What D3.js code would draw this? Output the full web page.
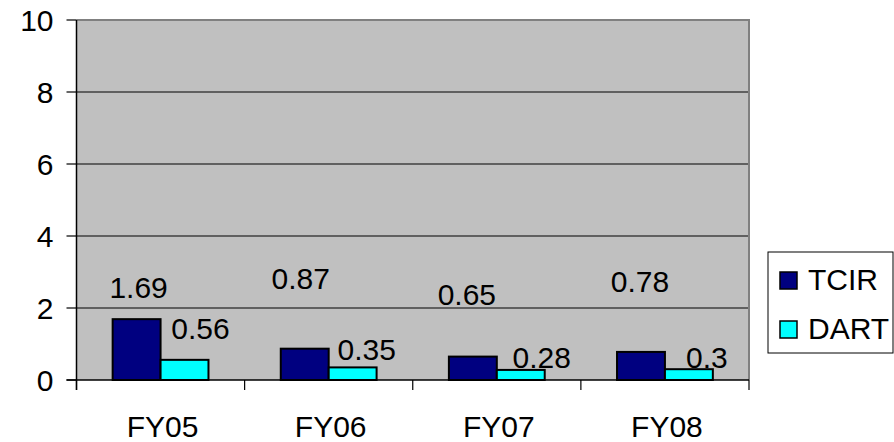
<!DOCTYPE html>
<html>
<head>
<meta charset="utf-8">
<script src="https://cdn.jsdelivr.net/npm/d3@7"></script>
<style>
  html, body { margin: 0; padding: 0; background: #fff; }
  svg { display: block; font-family: Arial, "Liberation Sans", sans-serif; }
</style>
</head>
<body>
<svg id="chart" width="894" height="442"></svg>
<script>
'use strict';

// --- data ---
const categories = ['FY05', 'FY06', 'FY07', 'FY08'];
const seriesNames = ['TCIR', 'DART'];
const tcirValues = [1.69, 0.87, 0.65, 0.78];
const dartValues = [0.56, 0.35, 0.28, 0.3];
const yTicks = [0, 2, 4, 6, 8, 10];

// label placement (px nudges, as the original sheet had them hand-placed)
const tcirLabelShift = [[2, -21], [-4, -60], [-6, -52], [-1, -60]];
const dartLabelShift = [[16, -21], [14, -7], [21, -2], [18, -1]];

const colors = { TCIR: '#000080', DART: '#00FFFF' };

const svg = d3.select('#chart');
const M = { left: 76.5, right: 749, top: 20, bottom: 380 };

const x = d3.scaleBand()
    .domain(categories)
    .range([M.left, M.right])
    .paddingInner(0.43)
    .paddingOuter(0.215);
const xSub = d3.scaleBand().domain(seriesNames).range([0, x.bandwidth()]);
const y = d3.scaleLinear().domain([0, 10]).range([M.bottom, M.top]);
const step = x.step();

// plot background
svg.append('rect')
    .attr('x', M.left).attr('y', M.top)
    .attr('width', M.right - M.left).attr('height', M.bottom - M.top)
    .attr('fill', '#C0C0C0');

// gridlines
svg.append('g').selectAll('line')
    .data(yTicks.filter(t => t > 0 && t < 10))
    .join('line')
    .attr('x1', M.left).attr('x2', M.right)
    .attr('y1', d => y(d)).attr('y2', d => y(d))
    .attr('stroke', '#000').attr('stroke-width', 1.2);

// top + right frame (gray)
svg.append('path')
    .attr('d', `M${M.left},${M.top}H${M.right}V${M.bottom}`)
    .attr('fill', 'none').attr('stroke', '#808080').attr('stroke-width', 2);

// bars
const rows = categories.map((c, i) => ({ cat: c, TCIR: tcirValues[i], DART: dartValues[i], i }));
const groups = svg.append('g').selectAll('g')
    .data(rows).join('g')
    .attr('transform', d => `translate(${x(d.cat)},0)`);

groups.selectAll('rect')
    .data(d => seriesNames.map(s => ({ s, v: d[s] })))
    .join('rect')
    .attr('x', d => xSub(d.s))
    .attr('y', d => y(d.v))
    .attr('width', xSub.bandwidth())
    .attr('height', d => y(0) - y(d.v))
    .attr('fill', d => colors[d.s])
    .attr('stroke', '#000').attr('stroke-width', 2);

// value labels
const labelFont = 30;
groups.append('text')
    .attr('x', d => xSub('TCIR') + xSub.bandwidth() / 2 + tcirLabelShift[d.i][0])
    .attr('y', d => y(d.TCIR) + tcirLabelShift[d.i][1])
    .attr('text-anchor', 'middle').attr('font-size', labelFont)
    .text(d => d.TCIR);
groups.append('text')
    .attr('x', d => xSub('DART') + xSub.bandwidth() / 2 + dartLabelShift[d.i][0])
    .attr('y', d => y(d.DART) + dartLabelShift[d.i][1])
    .attr('text-anchor', 'middle').attr('font-size', labelFont)
    .text(d => d.DART);

// y axis
const yAxis = svg.append('g');
yAxis.append('line')
    .attr('x1', M.left).attr('x2', M.left).attr('y1', M.top).attr('y2', M.bottom + 10)
    .attr('stroke', '#000').attr('stroke-width', 1.5);
yAxis.selectAll('line.tick')
    .data(yTicks).join('line').attr('class', 'tick')
    .attr('x1', M.left - 10).attr('x2', M.left)
    .attr('y1', d => y(d)).attr('y2', d => y(d))
    .attr('stroke', '#000').attr('stroke-width', 1.2);
yAxis.selectAll('text')
    .data(yTicks).join('text')
    .attr('x', M.left - 23).attr('y', d => y(d) + 11)
    .attr('text-anchor', 'end').attr('font-size', labelFont)
    .text(d => d);

// x axis
const xAxis = svg.append('g');
xAxis.append('line')
    .attr('x1', M.left - 10).attr('x2', M.right).attr('y1', M.bottom).attr('y2', M.bottom)
    .attr('stroke', '#000').attr('stroke-width', 1.5);
xAxis.selectAll('line.tick')
    .data(d3.range(categories.length + 1)).join('line').attr('class', 'tick')
    .attr('x1', i => M.left + i * step).attr('x2', i => M.left + i * step)
    .attr('y1', M.bottom).attr('y2', M.bottom + 10)
    .attr('stroke', '#000').attr('stroke-width', 1.2);
xAxis.selectAll('text')
    .data(categories).join('text')
    .attr('x', d => x(d) + x.bandwidth() / 2 + 2)
    .attr('y', 437)
    .attr('text-anchor', 'middle').attr('font-size', labelFont)
    .text(d => d);

// legend
const legend = svg.append('g');
legend.append('rect')
    .attr('x', 768).attr('y', 252).attr('width', 125).attr('height', 101)
    .attr('fill', '#fff').attr('stroke', '#000').attr('stroke-width', 1);
seriesNames.forEach((s, i) => {
    legend.append('rect')
        .attr('x', 780).attr('y', 272 + i * 49).attr('width', 17).attr('height', 17)
        .attr('fill', colors[s]).attr('stroke', '#000').attr('stroke-width', 1.5);
    legend.append('text')
        .attr('x', 808).attr('y', 290 + i * 49)
        .attr('font-size', labelFont)
        .text(s);
});
</script>
</body>
</html>
